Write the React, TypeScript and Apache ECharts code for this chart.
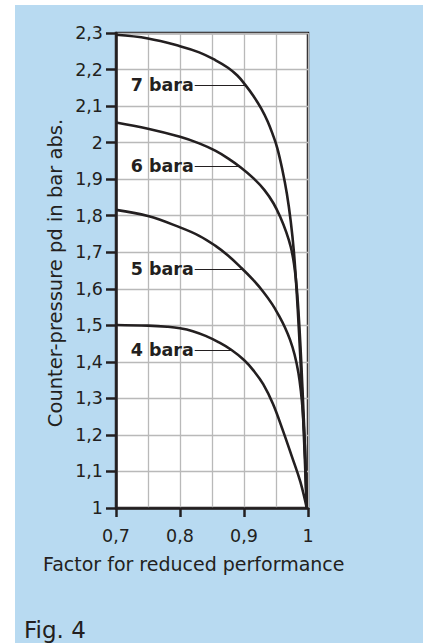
import React, { useEffect, useRef } from "react";
import * as echarts from "echarts";

// Curves: [factor, counter-pressure]
const bara7: [number, number][] = [
  [0.7, 2.295], [0.75, 2.285], [0.8, 2.264], [0.83, 2.247], [0.855, 2.226],
  [0.875, 2.205], [0.89, 2.183], [0.902, 2.158], [0.915, 2.127], [0.927, 2.093],
  [0.937, 2.058], [0.945, 2.022], [0.952, 1.985], [0.96, 1.925], [0.967, 1.86],
  [0.973, 1.785], [0.978, 1.7], [0.982, 1.6], [0.986, 1.48], [0.99, 1.34],
  [0.994, 1.18], [0.998, 1.0],
];
const bara6: [number, number][] = [
  [0.7, 2.055], [0.75, 2.038], [0.8, 2.016], [0.83, 1.998], [0.855, 1.978],
  [0.875, 1.957], [0.895, 1.932], [0.915, 1.902], [0.932, 1.87], [0.946, 1.834],
  [0.957, 1.795], [0.966, 1.755], [0.973, 1.715], [0.978, 1.67], [0.982, 1.61],
  [0.985, 1.54], [0.988, 1.45], [0.991, 1.34], [0.994, 1.22], [0.996, 1.12],
  [0.998, 1.0],
];
const bara5: [number, number][] = [
  [0.7, 1.816], [0.75, 1.799], [0.8, 1.768], [0.83, 1.745], [0.855, 1.718],
  [0.875, 1.691], [0.896, 1.657], [0.914, 1.625], [0.93, 1.592], [0.944, 1.558],
  [0.955, 1.525], [0.964, 1.494], [0.972, 1.46], [0.979, 1.42], [0.985, 1.37],
  [0.989, 1.318], [0.992, 1.26], [0.995, 1.17], [0.998, 1.0],
];
const bara4: [number, number][] = [
  [0.7, 1.501], [0.75, 1.499], [0.78, 1.496], [0.8, 1.492], [0.82, 1.484],
  [0.84, 1.471], [0.86, 1.454], [0.88, 1.433], [0.9, 1.405], [0.915, 1.376],
  [0.93, 1.339], [0.945, 1.286], [0.96, 1.216], [0.975, 1.14], [0.988, 1.072],
  [0.998, 1.0],
];

const curveNames = ["7 bara", "6 bara", "5 bara", "4 bara"];
const labelY = [2.158, 1.936, 1.653, 1.432];
const leaderStartX = [0.823, 0.823, 0.823, 0.823];
const leaderEndX = [0.902, 0.892, 0.897, 0.881];

const xAxisTitle = "Factor for reduced performance";
const yAxisTitle = "Counter-pressure pd in bar abs.";
const figTitle = "Fig. 4";

const INK = "#231f20";
const FONT = "DejaVu Sans";

function fmt(v: number) {
  return String(parseFloat(v.toFixed(2))).replace(".", ",");
}

export default function App() {
  const ref = useRef<HTMLDivElement>(null);
  useEffect(() => {
    if (!ref.current) return;
    const chart = echarts.init(ref.current, undefined, { renderer: "svg" });
    const curves = [bara7, bara6, bara5, bara4];
    chart.setOption({
      animation: false,
      grid: {
        left: 116,
        top: 33,
        width: 192,
        height: 475,
        show: true,
        backgroundColor: "#ffffff",
        borderColor: INK,
        borderWidth: 2.5,
      },
      xAxis: {
        type: "value",
        min: 0.7,
        max: 1.0,
        interval: 0.1,
        axisLine: { show: true, onZero: false, lineStyle: { color: INK, width: 2.5 } },
        axisTick: { show: true, length: 9, lineStyle: { color: INK, width: 2.5 } },
        axisLabel: {
          margin: 19,
          color: INK,
          fontFamily: FONT,
          fontSize: 17.5,
          formatter: (v: number) => fmt(v),
        },
        splitLine: { show: true, lineStyle: { color: "#b9b9b9", width: 1.3 } },
        minorTick: { show: false, splitNumber: 2 },
        minorSplitLine: { show: true, lineStyle: { color: "#b9b9b9", width: 1.3 } },
      },
      yAxis: {
        type: "value",
        min: 1,
        max: 2.3,
        interval: 0.1,
        axisLine: { show: true, onZero: false, lineStyle: { color: INK, width: 2.5 } },
        axisTick: { show: true, length: 10, lineStyle: { color: INK, width: 2.5 } },
        axisLabel: {
          margin: 13,
          color: INK,
          fontFamily: FONT,
          fontSize: 17.5,
          formatter: (v: number) => fmt(v),
        },
        splitLine: { show: true, lineStyle: { color: "#b9b9b9", width: 1.3 } },
      },
      series: curves.map((d, i) => ({
        name: curveNames[i],
        type: "line",
        data: d,
        showSymbol: false,
        smooth: 0.4,
        lineStyle: { color: INK, width: 2.6 },
        z: 5,
        markLine: {
          silent: true,
          symbol: ["none", "none"],
          lineStyle: { color: INK, width: 1.2, type: "solid" },
          label: {
            show: true,
            position: "start",
            distance: 1,
            formatter: curveNames[i],
            color: INK,
            fontFamily: FONT,
            fontWeight: "bold",
            fontSize: 17.5,
          },
          data: [[{ coord: [leaderStartX[i], labelY[i]] }, { coord: [leaderEndX[i], labelY[i]] }]],
        },
      })),
      graphic: [
        {
          type: "text",
          x: 55,
          y: 273,
          rotation: Math.PI / 2,
          style: {
            text: yAxisTitle,
            fill: INK,
            font: `19.5px "${FONT}"`,
            align: "center",
            verticalAlign: "middle",
          },
        },
        {
          type: "text",
          x: 43,
          y: 564,
          style: {
            text: xAxisTitle,
            fill: INK,
            font: `19px "${FONT}"`,
            align: "left",
            verticalAlign: "middle",
          },
        },
        {
          type: "text",
          x: 24,
          y: 630,
          style: {
            text: figTitle,
            fill: INK,
            font: `23px "${FONT}"`,
            align: "left",
            verticalAlign: "middle",
          },
        },
      ],
    });
    return () => chart.dispose();
  }, []);

  return (
    <div style={{ position: "absolute", left: 0, top: 0, width: 429, height: 643, background: "#ffffff", overflow: "hidden" }}>
      <div style={{ position: "absolute", left: 15, top: 5, width: 408, height: 638, background: "#b8daf1" }} />
      <div ref={ref} style={{ position: "absolute", left: 0, top: 0, width: 429, height: 643 }} />
    </div>
  );
}
